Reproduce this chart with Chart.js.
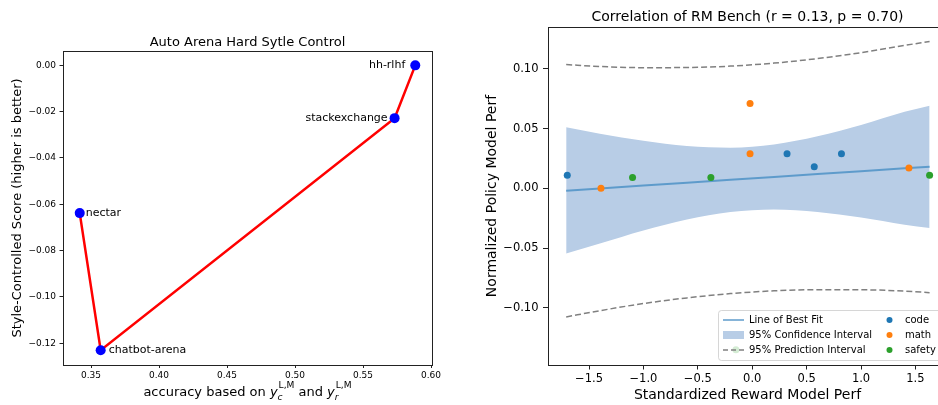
<!DOCTYPE html>
<html><head><meta charset="utf-8">
<script src="https://cdn.jsdelivr.net/npm/chart.js@4.4.1/dist/chart.umd.min.js"></script>
<style>
html,body{margin:0;padding:0;background:#fff;overflow:hidden;width:938px;height:405px;position:relative;}
#c1{position:absolute;left:0;top:0;}
#c2{position:absolute;left:470px;top:0;}
</style></head><body>
<canvas id="c1" width="470" height="405"></canvas>
<canvas id="c2" width="490" height="405"></canvas>
<script>
// ---------- Left chart data ----------
const arenaNames = ['nectar', 'chatbot-arena', 'stackexchange', 'hh-rlhf'];
const arenaAccuracy = [0.3417, 0.3571, 0.5732, 0.5884];
const arenaScore = [-0.0638, -0.1230, -0.0228, 0.0000];
const arenaXTicks = [0.35, 0.40, 0.45, 0.50, 0.55, 0.60];
const arenaYTicks = [0.00, -0.02, -0.04, -0.06, -0.08, -0.10, -0.12];

// ---------- Right chart data ----------
const categories = ['code', 'math', 'safety'];
const codeX = [-1.70, 0.32, 0.57, 0.82];
const codeY = [0.011, 0.029, 0.018, 0.029];
const mathX = [-1.39, -0.02, -0.02, 1.44];
const mathY = [0.000, 0.071, 0.029, 0.017];
const safetyX = [-1.10, -0.38, 1.63, -0.15];
const safetyY = [0.009, 0.009, 0.011, -0.135];
const bandX = [-1.71, -1.40, -1.00, -0.60, -0.20, 0.20, 0.60, 1.00, 1.40, 1.63];
const fitY = [-0.0020, -0.0002, 0.0023, 0.0047, 0.0071, 0.0095, 0.0119, 0.0143, 0.0168, 0.0181];
const ciUpper = [0.0510, 0.0457, 0.0398, 0.0354, 0.0340, 0.0367, 0.0435, 0.0530, 0.0640, 0.0690];
const ciLower = [-0.0545, -0.0461, -0.0352, -0.0260, -0.0198, -0.0177, -0.0197, -0.0244, -0.0304, -0.0332];
const piUpper = [0.1035, 0.1019, 0.1009, 0.1010, 0.1022, 0.1047, 0.1085, 0.1134, 0.1195, 0.1228];
const piLower = [-0.1075, -0.1023, -0.0963, -0.0916, -0.0880, -0.0857, -0.0847, -0.0848, -0.0859, -0.0872];
const rmXTicks = [-1.5, -1.0, -0.5, 0.0, 0.5, 1.0, 1.5];
const rmYTicks = [-0.10, -0.05, 0.00, 0.05, 0.10];
const legendLabels = ['Line of Best Fit', '95% Confidence Interval', '95% Prediction Interval'];

// ---------- helpers ----------
const FONT = "'DejaVu Sans', sans-serif";
const fmt = (v, d) => Number(v).toFixed(d).replace('-', '\u2212');
const pts = (xs, ys) => xs.map((x, i) => ({x: x, y: ys[i]}));
const fixedTicks = arr => s => { s.ticks = arr.map(v => ({value: v})); };

const labelStyle = {
  'nectar': {dx: 6, align: 'left'},
  'chatbot-arena': {dx: 8, align: 'left'},
  'stackexchange': {dx: -7, align: 'right'},
  'hh-rlhf': {dx: -10, align: 'right'}
};

function axisScale(opts) {
  return {
    type: 'linear', min: opts.min, max: opts.max,
    afterBuildTicks: fixedTicks(opts.ticks),
    afterFit: opts.fit,
    grid: {drawOnChartArea: false, drawTicks: true, tickLength: opts.tl, color: '#222', tickWidth: 1},
    border: {display: true, color: '#222', width: 1},
    ticks: {font: {family: FONT, size: opts.fs}, color: '#000', padding: opts.pad,
            autoSkip: false, maxRotation: 0, callback: v => fmt(v, opts.dec)}
  };
}

function drawMathXTitle(ctx, cx, base, size) {
  const reg = size + 'px ' + FONT, ita = 'italic ' + size + 'px ' + FONT;
  const small = (size * 0.7) + 'px ' + FONT, smallIt = 'italic ' + (size * 0.7) + 'px ' + FONT;
  const seq = [
    {t: 'accuracy based on ', f: reg}, {t: 'y', f: ita}, {sub: 'c', sup: 'L,M'},
    {t: ' and ', f: reg}, {t: 'y', f: ita}, {sub: 'r', sup: 'L,M'}
  ];
  const w = p => {
    if (p.t) { ctx.font = p.f; return ctx.measureText(p.t).width; }
    ctx.font = smallIt; const a = ctx.measureText(p.sub).width;
    ctx.font = small; const b = ctx.measureText(p.sup).width;
    return Math.max(a, b) + 1;
  };
  const total = seq.reduce((s, p) => s + w(p), 0);
  let x = cx - total / 2;
  ctx.textAlign = 'left'; ctx.textBaseline = 'alphabetic'; ctx.fillStyle = '#000';
  seq.forEach(p => {
    const ww = w(p);
    if (p.t) { ctx.font = p.f; ctx.fillText(p.t, x, base); }
    else {
      ctx.font = smallIt; ctx.fillText(p.sub, x, base + size * 0.28);
      ctx.font = small; ctx.fillText(p.sup, x + 1, base - size * 0.6);
    }
    x += ww;
  });
}

// ---------- Left chart ----------
const leftDecor = {
  id: 'leftDecor',
  afterDraw(chart) {
    const ctx = chart.ctx, a = chart.chartArea;
    ctx.save();
    ctx.strokeStyle = '#222'; ctx.lineWidth = 1;
    ctx.strokeRect(Math.round(a.left) + 0.5, Math.round(a.top) + 0.5, Math.round(a.right - a.left), Math.round(a.bottom - a.top));
    // point labels
    const meta = chart.getDatasetMeta(0);
    ctx.font = '11px ' + FONT; ctx.fillStyle = '#000'; ctx.textBaseline = 'middle';
    arenaNames.forEach((n, i) => {
      const el = meta.data[i], st = labelStyle[n];
      ctx.textAlign = st.align;
      ctx.fillText(n, el.x + st.dx, el.y);
    });
    // title
    ctx.textAlign = 'center'; ctx.textBaseline = 'alphabetic';
    ctx.font = '13px ' + FONT;
    ctx.fillText('Auto Arena Hard Sytle Control', (a.left + a.right) / 2, 46);
    // y title
    ctx.save();
    ctx.translate(18, (a.top + a.bottom) / 2); ctx.rotate(-Math.PI / 2);
    ctx.textBaseline = 'middle'; ctx.font = '13px ' + FONT;
    ctx.fillText('Style-Controlled Score (higher is better)', 0, 0);
    ctx.restore();
    drawMathXTitle(ctx, (a.left + a.right) / 2, 396, 13);
    ctx.restore();
  }
};

new Chart(document.getElementById('c1'), {
  type: 'line',
  data: {datasets: [{
    data: pts(arenaAccuracy, arenaScore),
    borderColor: '#ff0000', borderWidth: 2.5, tension: 0, fill: false,
    pointRadius: 5, pointHoverRadius: 5, pointBackgroundColor: '#0000ff', pointBorderColor: '#0000ff', pointBorderWidth: 0
  }]},
  options: {
    responsive: false, animation: false, events: [],
    layout: {padding: {left: 0, right: 38, top: 51, bottom: 0}},
    plugins: {legend: {display: false}, tooltip: {enabled: false}},
    scales: {
      x: axisScale({min: 0.3294, max: 0.6007, ticks: arenaXTicks, tl: 3, pad: 2, fs: 9, dec: 2, fit: s => { s.height = 40; }}),
      y: axisScale({min: -0.1294, max: 0.0062, ticks: arenaYTicks, tl: 3.5, pad: 3.5, fs: 9, dec: 2, fit: s => { s.width = 63; }})
    }
  },
  plugins: [leftDecor]
});

// ---------- Right chart ----------
const COL = {code: '#1f77b4', math: '#ff7f0e', safety: '#2ca02c', fit: '#5e9bcb', ci: '#b8cde6', pi: '#808080'};

const rightDecor = {
  id: 'rightDecor',
  afterDraw(chart) {
    const ctx = chart.ctx, a = chart.chartArea;
    ctx.save();
    ctx.strokeStyle = '#222'; ctx.lineWidth = 1;
    ctx.strokeRect(Math.round(a.left) + 0.5, Math.round(a.top) + 0.5, Math.round(a.right - a.left), Math.round(a.bottom - a.top));
    ctx.fillStyle = '#000'; ctx.textAlign = 'center'; ctx.textBaseline = 'alphabetic';
    ctx.font = '14px ' + FONT;
    ctx.fillText('Correlation of RM Bench (r = 0.13, p = 0.70)', (a.left + a.right) / 2, 21);
    ctx.fillText('Standardized Reward Model Perf', (a.left + a.right) / 2, 399);
    ctx.save();
    ctx.translate(22.5, (a.top + a.bottom) / 2); ctx.rotate(-Math.PI / 2);
    ctx.textBaseline = 'middle';
    ctx.fillText('Normalized Policy Model Perf', 0, 0);
    ctx.restore();
    // legend
    const bx = 248.5, by = 310.5, bw = 240, bh = 50, r = 3;
    ctx.beginPath();
    ctx.moveTo(bx + r, by); ctx.lineTo(bx + bw - r, by); ctx.arcTo(bx + bw, by, bx + bw, by + r, r);
    ctx.lineTo(bx + bw, by + bh - r); ctx.arcTo(bx + bw, by + bh, bx + bw - r, by + bh, r);
    ctx.lineTo(bx + r, by + bh); ctx.arcTo(bx, by + bh, bx, by + bh - r, r);
    ctx.lineTo(bx, by + r); ctx.arcTo(bx, by, bx + r, by, r); ctx.closePath();
    ctx.fillStyle = 'rgba(255,255,255,0.8)'; ctx.fill();
    ctx.strokeStyle = 'rgba(204,204,204,0.8)'; ctx.lineWidth = 1; ctx.stroke();
    const rows = [320, 335, 350];
    // handles
    ctx.strokeStyle = COL.fit; ctx.lineWidth = 1.5; ctx.setLineDash([]);
    ctx.beginPath(); ctx.moveTo(253, rows[0]); ctx.lineTo(274, rows[0]); ctx.stroke();
    ctx.fillStyle = COL.ci; ctx.fillRect(253, rows[1] - 4, 21, 8);
    ctx.strokeStyle = COL.pi; ctx.setLineDash([5, 3]);
    ctx.beginPath(); ctx.moveTo(253, rows[2]); ctx.lineTo(274, rows[2]); ctx.stroke();
    ctx.setLineDash([]);
    ctx.font = '10px ' + FONT; ctx.fillStyle = '#000'; ctx.textAlign = 'left'; ctx.textBaseline = 'middle';
    legendLabels.forEach((t, i) => ctx.fillText(t, 279, rows[i]));
    categories.forEach((c, i) => {
      ctx.fillStyle = COL[c];
      ctx.beginPath(); ctx.arc(419.5, rows[i], 3, 0, Math.PI * 2); ctx.fill();
      ctx.fillStyle = '#000';
      ctx.fillText(c, 435, rows[i]);
    });
    ctx.restore();
  }
};

const scatterDs = (label, xs, ys, color) => ({
  label: label, data: pts(xs, ys), showLine: false, order: 0,
  pointRadius: 3.5, pointHoverRadius: 3.5, pointBackgroundColor: color, pointBorderColor: color, pointBorderWidth: 0,
  borderColor: color, backgroundColor: color
});

new Chart(document.getElementById('c2'), {
  type: 'line',
  data: {datasets: [
    scatterDs(categories[0], codeX, codeY, COL.code),
    scatterDs(categories[1], mathX, mathY, COL.math),
    scatterDs(categories[2], safetyX, safetyY, COL.safety),
    {label: legendLabels[0], data: pts(bandX, fitY), order: 1, borderColor: COL.fit, borderWidth: 2, pointRadius: 0, fill: false, tension: 0},
    {label: legendLabels[2], data: pts(bandX, piUpper), order: 2, borderColor: COL.pi, borderWidth: 1.5, borderDash: [6, 3], pointRadius: 0, fill: false, cubicInterpolationMode: 'monotone'},
    {label: legendLabels[2] + ' lower', data: pts(bandX, piLower), order: 2, borderColor: COL.pi, borderWidth: 1.5, borderDash: [6, 3], pointRadius: 0, fill: false, cubicInterpolationMode: 'monotone'},
    {label: legendLabels[1] + ' lower', data: pts(bandX, ciLower), order: 3, borderWidth: 0, borderColor: 'rgba(0,0,0,0)', pointRadius: 0, fill: false, cubicInterpolationMode: 'monotone'},
    {label: legendLabels[1], data: pts(bandX, ciUpper), order: 3, borderWidth: 0, borderColor: 'rgba(0,0,0,0)', backgroundColor: COL.ci, pointRadius: 0, fill: '-1', cubicInterpolationMode: 'monotone'}
  ]},
  options: {
    responsive: false, animation: false, events: [],
    layout: {padding: {left: 0, right: 13, top: 27, bottom: 0}},
    plugins: {legend: {display: false}, tooltip: {enabled: false}},
    scales: {
      x: axisScale({min: -1.877, max: 1.79, ticks: rmXTicks, tl: 4.5, pad: 3, fs: 11.5, dec: 1, fit: s => { s.height = 40; }}),
      y: axisScale({min: -0.1477, max: 0.1349, ticks: rmYTicks, tl: 5, pad: 4.5, fs: 11.5, dec: 2, fit: s => { s.width = 78; }})
    }
  },
  plugins: [rightDecor]
});
</script>
</body></html>
